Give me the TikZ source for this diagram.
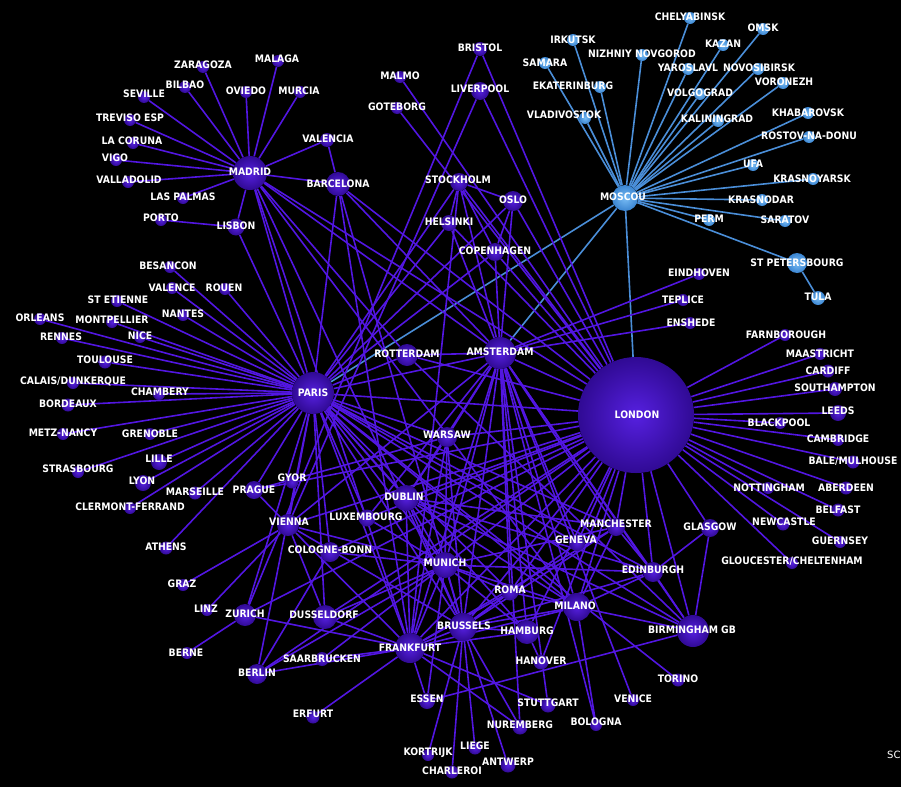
\documentclass[tikz,border=0pt]{standalone}
\usepackage{fontspec}
\setmainfont{DejaVu Sans}
\newfontfamily\lblfont[FakeStretch=0.9]{DejaVu Sans}
\pgfdeclarelayer{bg}
\pgfdeclarelayer{edges}
\pgfsetlayers{bg,edges,main}
\definecolor{pin}{RGB}{86,32,224}
\definecolor{pout}{RGB}{48,10,148}
\definecolor{bin}{RGB}{120,188,245}
\definecolor{bout}{RGB}{58,132,208}
\definecolor{edgec}{RGB}{82,22,225}
\definecolor{bedgec}{RGB}{74,142,216}
\newcommand\pc[4]{\node[pn,minimum size=#4pt] (#1) at (#2,#3) {};}
\newcommand\bc[4]{\node[bn,minimum size=#4pt] (#1) at (#2,#3) {};}
\newcommand\lb[4]{\node[lbl] (#1l) at (#2,#3) {#4};}
\begin{document}
\begin{tikzpicture}[x=1pt,y=-1pt,
 pn/.style={circle,inner sep=0pt,inner color=pin,outer color=pout},
 bn/.style={circle,inner sep=0pt,inner color=bin,outer color=bout},
 lbl/.style={text=white,font=\lblfont\bfseries\fontsize{10.3}{11}\selectfont,inner sep=0pt},
 ed/.style={draw=edgec,line width=1.6pt},
 bed/.style={draw=bedgec,line width=1.6pt}]
\begin{pgfonlayer}{bg}
\fill[black] (0,0) rectangle (901,787);
\end{pgfonlayer}
\useasboundingbox (0,0) rectangle (901,787);
% Madrid cluster
\pc{mad}{250}{173}{34}
\pc{zar}{203}{67}{12}
\pc{mal}{278}{61}{12}
\pc{bil}{185}{87}{12}
\pc{sev}{144}{97}{12}
\pc{ovi}{246}{92}{12}
\pc{mur}{300}{92}{12}
\pc{tre}{130}{120}{12}
\pc{cor}{133}{143}{12}
\pc{vig}{116}{160}{12}
\pc{vll}{128}{182}{12}
\pc{lpa}{183}{198}{12}
\pc{por}{161}{220}{12}
\pc{lis}{236}{227}{17}
\pc{vlc}{327}{140}{14}
\pc{bcn}{338}{184}{24}
% north
\pc{brs}{480}{49}{14}
\pc{mmo}{400}{77}{12}
\pc{lpl}{480}{91}{18}
\pc{got}{397}{108}{12}
\pc{sto}{459}{182}{18}
\pc{osl}{513}{201}{20}
\pc{hel}{449}{223}{16}
\pc{cph}{495}{252}{18}
% russia
\bc{mow}{625}{198}{26}
\bc{kuf}{545}{63}{12}
\bc{ikt}{573}{40}{12}
\bc{svx}{600}{87}{12}
\bc{vvo}{585}{118}{12}
\bc{goj}{642}{55}{12}
\bc{cek}{690}{18}{12}
\bc{oms}{763}{29}{12}
\bc{kzn}{723}{45}{12}
\bc{iar}{688}{69}{12}
\bc{ovb}{758}{69}{12}
\bc{voz}{783}{83}{12}
\bc{vog}{700}{94}{12}
\bc{kgd}{718}{121}{12}
\bc{khv}{808}{113}{12}
\bc{rov}{809}{137}{12}
\bc{ufa}{753}{165}{12}
\bc{kja}{813}{179}{12}
\bc{krr}{762}{200}{12}
\bc{pee}{709}{220}{12}
\bc{rtw}{785}{221}{12}
\bc{led}{797}{263}{20}
\bc{tul}{818}{298}{14}
% right
\pc{ein}{699}{274}{12}
\pc{tep}{683}{300}{12}
\pc{ens}{690}{323}{12}
\pc{far}{785}{335}{12}
\pc{mst}{820}{354}{12}
\pc{cwl}{828}{371}{13}
\pc{sou}{835}{389}{14}
\pc{lba}{838}{413}{16}
\pc{blk}{780}{423}{12}
\pc{cbg}{838}{440}{12}
\pc{bsl}{853}{462}{13}
\pc{ntg}{768}{488}{12}
\pc{abz}{846}{488}{13}
\pc{bfs}{838}{510}{13}
\pc{ncl}{783}{524}{13}
\pc{gla}{710}{528}{18}
\pc{gci}{840}{542}{12}
\pc{glo}{792}{563}{12}
\pc{lon}{636}{415}{116}
\pc{man}{616}{527}{18}
\pc{gva}{577}{543}{16}
\pc{edi}{653}{572}{20}
\pc{bhx}{693}{631}{32}
\pc{trn}{678}{680}{13}
\pc{vce}{633}{700}{12}
\pc{blq}{596}{725}{12}
% center
\pc{par}{313}{393}{42}
\pc{ams}{500}{353}{32}
\pc{rtm}{407}{355}{22}
\pc{waw}{447}{437}{20}
\pc{dub}{406}{498}{26}
\pc{lux}{367}{518}{17}
\pc{gyr}{292}{482}{13}
\pc{prg}{254}{490}{18}
\pc{vie}{288}{525}{22}
\pc{cgn}{330}{552}{20}
\pc{muc}{445}{565}{26}
\pc{rom}{510}{592}{17}
\pc{mil}{577}{607}{28}
\pc{dus}{325}{617}{24}
\pc{bru}{463}{627}{28}
\pc{ham}{527}{632}{24}
\pc{fra}{410}{648}{30}
\pc{scn}{322}{659}{14}
\pc{haj}{541}{662}{15}
\pc{ess}{427}{701}{16}
\pc{str}{548}{705}{15}
\pc{erf}{313}{717}{13}
\pc{nue}{520}{727}{15}
\pc{lgg}{475}{748}{13}
\pc{kjk}{428}{755}{12}
\pc{anr}{508}{765}{15}
\pc{crl}{452}{772}{13}
% west
\pc{bes}{170}{267}{12}
\pc{vaf}{172}{288}{12}
\pc{uro}{225}{289}{12}
\pc{ebu}{117}{301}{12}
\pc{orl}{40}{319}{12}
\pc{mpl}{112}{322}{12}
\pc{nte}{183}{315}{12}
\pc{rns}{62}{338}{12}
\pc{nce}{140}{337}{12}
\pc{tls}{105}{362}{13}
\pc{cqf}{73}{383}{12}
\pc{cmf}{159}{394}{12}
\pc{bod}{68}{405}{13}
\pc{etz}{63}{434}{12}
\pc{gnb}{150}{434}{12}
\pc{lil}{159}{462}{16}
\pc{sxb}{78}{472}{12}
\pc{lys}{143}{483}{16}
\pc{mrs}{195}{493}{13}
\pc{cfe}{130}{508}{12}
\pc{ath}{166}{548}{13}
\pc{grz}{183}{585}{12}
\pc{lnz}{207}{610}{12}
\pc{zrh}{245}{615}{22}
\pc{brn}{187}{653}{12}
\pc{ber}{257}{674}{20}
% edges
\begin{pgfonlayer}{edges}
\foreach \a/\b in {mow/kuf,mow/ikt,mow/svx,mow/vvo,mow/goj,mow/cek,mow/oms,mow/kzn,mow/iar,mow/ovb,mow/voz,mow/vog,mow/kgd,mow/khv,mow/rov,mow/ufa,mow/kja,mow/krr,mow/pee,mow/rtw,mow/led,led/tul,mow/lon,mow/par,mow/ams}
  \draw[bed] (\a) -- (\b);
\foreach \a/\b in {mad/zar,mad/mal,mad/bil,mad/sev,mad/ovi,mad/mur,mad/tre,mad/cor,mad/vig,mad/vll,mad/lpa,mad/lis,mad/vlc,mad/bcn,mad/par,mad/lon,mad/ams,mad/rtm,mad/fra,mad/bru,mad/mil,
 lis/por,lis/par,bcn/vlc,bcn/par,bcn/ams,bcn/lon,bcn/fra,bcn/bru,
 par/bes,par/vaf,par/uro,par/ebu,par/orl,par/mpl,par/nte,par/rns,par/nce,par/tls,par/cqf,par/cmf,par/bod,par/etz,par/gnb,par/lil,par/sxb,par/lys,par/mrs,par/cfe,par/ath,
 par/sto,par/osl,par/hel,par/cph,par/rtm,par/ams,par/lon,par/waw,par/dub,par/lux,par/prg,par/vie,par/zrh,par/cgn,par/muc,par/rom,par/mil,par/dus,par/bru,par/ham,par/fra,par/ber,par/gva,par/man,par/edi,par/bhx,par/trn,
 brs/lon,brs/zrh,lpl/lon,lpl/vie,mmo/lon,got/lon,sto/osl,sto/hel,sto/cph,sto/lon,sto/ams,sto/fra,osl/cph,osl/lon,osl/ams,hel/ams,hel/lon,cph/ams,cph/lon,
 lon/ams,lon/rtm,lon/waw,lon/dub,lon/lux,lon/vie,lon/zrh,lon/cgn,lon/dus,lon/muc,lon/fra,lon/bru,lon/ham,lon/rom,lon/mil,lon/gva,lon/man,lon/edi,lon/gla,lon/bhx,lon/ncl,lon/glo,lon/gci,lon/bfs,lon/abz,lon/ntg,lon/bsl,lon/cbg,lon/blk,lon/lba,lon/sou,lon/cwl,lon/mst,lon/far,lon/prg,lon/ber,lon/haj,
 ams/ein,ams/tep,ams/ens,ams/rtm,ams/waw,ams/dub,ams/muc,ams/fra,ams/bru,ams/ham,ams/mil,ams/rom,ams/vce,ams/man,ams/edi,ams/bhx,ams/gva,ams/vie,ams/lux,ams/str,ams/nue,ams/blq,
 fra/erf,fra/ess,fra/ber,fra/zrh,fra/vie,fra/scn,fra/dus,fra/muc,fra/ham,fra/str,fra/nue,fra/bru,fra/mil,fra/rom,fra/dub,fra/man,fra/waw,
 bru/kjk,bru/lgg,bru/crl,bru/anr,bru/nue,bru/muc,bru/mil,bru/rom,bru/ham,bru/dub,bru/man,bru/edi,bru/waw,bru/vie,bru/gva,
 muc/ber,muc/ham,muc/rom,muc/mil,muc/dus,muc/cgn,muc/vie,muc/ess,muc/lux,muc/waw,muc/dub,muc/man,muc/edi,muc/scn,
 mil/blq,mil/rom,mil/dub,mil/man,mil/edi,mil/bhx,dub/man,dub/edi,dub/bhx,dub/waw,
 man/edi,edi/gla,edi/bhx,gla/bhx,bhx/ess,bhx/rtm,ham/haj,vie/grz,vie/lnz,vie/prg,vie/dus,zrh/brn,ber/cgn,waw/prg}
  \draw[ed] (\a) -- (\b);
\end{pgfonlayer}
% labels
\lb{mad}{250}{172}{MADRID}
\lb{zar}{203}{65}{ZARAGOZA}
\lb{mal}{277}{59}{MALAGA}
\lb{bil}{185}{85}{BILBAO}
\lb{sev}{144}{94}{SEVILLE}
\lb{ovi}{246}{91}{OVIEDO}
\lb{mur}{299}{91}{MURCIA}
\lb{tre}{130}{118}{TREVISO ESP}
\lb{cor}{132}{141}{LA CORUNA}
\lb{vig}{115}{158}{VIGO}
\lb{vll}{129}{180}{VALLADOLID}
\lb{lpa}{183}{197}{LAS PALMAS}
\lb{por}{161}{218}{PORTO}
\lb{lis}{236}{226}{LISBON}
\lb{vlc}{328}{139}{VALENCIA}
\lb{bcn}{338}{184}{BARCELONA}
\lb{brs}{480}{48}{BRISTOL}
\lb{mmo}{400}{76}{MALMO}
\lb{lpl}{480}{89}{LIVERPOOL}
\lb{got}{397}{107}{GOTEBORG}
\lb{sto}{458}{180}{STOCKHOLM}
\lb{osl}{513}{200}{OSLO}
\lb{hel}{449}{222}{HELSINKI}
\lb{cph}{495}{251}{COPENHAGEN}
\lb{mow}{623}{197}{MOSCOU}
\lb{kuf}{545}{63}{SAMARA}
\lb{ikt}{573}{40}{IRKUTSK}
\lb{svx}{573}{86}{EKATERINBURG}
\lb{vvo}{564}{115}{VLADIVOSTOK}
\lb{goj}{642}{54}{NIZHNIY NOVGOROD}
\lb{cek}{690}{17}{CHELYABINSK}
\lb{oms}{763}{28}{OMSK}
\lb{kzn}{723}{44}{KAZAN}
\lb{iar}{688}{68}{YAROSLAVL}
\lb{ovb}{759}{68}{NOVOSIBIRSK}
\lb{voz}{784}{82}{VORONEZH}
\lb{vog}{700}{93}{VOLGOGRAD}
\lb{kgd}{717}{119}{KALININGRAD}
\lb{khv}{808}{113}{KHABAROVSK}
\lb{rov}{809}{136}{ROSTOV-NA-DONU}
\lb{ufa}{753}{164}{UFA}
\lb{kja}{812}{179}{KRASNOYARSK}
\lb{krr}{761}{200}{KRASNODAR}
\lb{pee}{709}{219}{PERM}
\lb{rtw}{785}{220}{SARATOV}
\lb{led}{797}{263}{ST PETERSBOURG}
\lb{tul}{818}{297}{TULA}
\lb{ein}{699}{273}{EINDHOVEN}
\lb{tep}{683}{300}{TEPLICE}
\lb{ens}{691}{323}{ENSHEDE}
\lb{far}{786}{335}{FARNBOROUGH}
\lb{mst}{820}{354}{MAASTRICHT}
\lb{cwl}{828}{371}{CARDIFF}
\lb{sou}{835}{388}{SOUTHAMPTON}
\lb{lba}{838}{411}{LEEDS}
\lb{blk}{779}{423}{BLACKPOOL}
\lb{cbg}{838}{439}{CAMBRIDGE}
\lb{bsl}{853}{461}{BALE/MULHOUSE}
\lb{ntg}{769}{488}{NOTTINGHAM}
\lb{abz}{846}{488}{ABERDEEN}
\lb{bfs}{838}{510}{BELFAST}
\lb{ncl}{784}{522}{NEWCASTLE}
\lb{gla}{710}{527}{GLASGOW}
\lb{gci}{840}{541}{GUERNSEY}
\lb{glo}{792}{561}{GLOUCESTER/CHELTENHAM}
\lb{lon}{637}{415}{LONDON}
\lb{man}{616}{524}{MANCHESTER}
\lb{gva}{576}{540}{GENEVA}
\lb{edi}{653}{570}{EDINBURGH}
\lb{bhx}{692}{630}{BIRMINGHAM GB}
\lb{trn}{678}{679}{TORINO}
\lb{vce}{633}{699}{VENICE}
\lb{blq}{596}{722}{BOLOGNA}
\lb{par}{313}{393}{PARIS}
\lb{ams}{500}{352}{AMSTERDAM}
\lb{rtm}{407}{354}{ROTTERDAM}
\lb{waw}{447}{435}{WARSAW}
\lb{dub}{404}{497}{DUBLIN}
\lb{lux}{366}{517}{LUXEMBOURG}
\lb{gyr}{292}{478}{GYOR}
\lb{prg}{254}{490}{PRAGUE}
\lb{vie}{289}{522}{VIENNA}
\lb{cgn}{330}{550}{COLOGNE-BONN}
\lb{muc}{445}{563}{MUNICH}
\lb{rom}{510}{590}{ROMA}
\lb{mil}{575}{606}{MILANO}
\lb{dus}{324}{615}{DUSSELDORF}
\lb{bru}{464}{626}{BRUSSELS}
\lb{ham}{527}{631}{HAMBURG}
\lb{fra}{410}{648}{FRANKFURT}
\lb{scn}{322}{659}{SAARBRUCKEN}
\lb{haj}{541}{661}{HANOVER}
\lb{ess}{427}{699}{ESSEN}
\lb{str}{548}{703}{STUTTGART}
\lb{erf}{313}{714}{ERFURT}
\lb{nue}{520}{725}{NUREMBERG}
\lb{lgg}{475}{746}{LIEGE}
\lb{kjk}{428}{753}{KORTRIJK}
\lb{anr}{508}{762}{ANTWERP}
\lb{crl}{452}{771}{CHARLEROI}
\lb{bes}{168}{266}{BESANCON}
\lb{vaf}{172}{288}{VALENCE}
\lb{uro}{224}{288}{ROUEN}
\lb{ebu}{118}{300}{ST ETIENNE}
\lb{orl}{40}{318}{ORLEANS}
\lb{mpl}{112}{320}{MONTPELLIER}
\lb{nte}{183}{314}{NANTES}
\lb{rns}{61}{337}{RENNES}
\lb{nce}{140}{336}{NICE}
\lb{tls}{105}{360}{TOULOUSE}
\lb{cqf}{73}{381}{CALAIS/DUNKERQUE}
\lb{cmf}{160}{392}{CHAMBERY}
\lb{bod}{68}{404}{BORDEAUX}
\lb{etz}{63}{433}{METZ-NANCY}
\lb{gnb}{150}{434}{GRENOBLE}
\lb{lil}{159}{459}{LILLE}
\lb{sxb}{78}{469}{STRASBOURG}
\lb{lys}{142}{481}{LYON}
\lb{mrs}{195}{492}{MARSEILLE}
\lb{cfe}{130}{507}{CLERMONT-FERRAND}
\lb{ath}{166}{547}{ATHENS}
\lb{grz}{182}{584}{GRAZ}
\lb{lnz}{206}{609}{LINZ}
\lb{zrh}{245}{614}{ZURICH}
\lb{brn}{186}{653}{BERNE}
\lb{ber}{257}{673}{BERLIN}
\node[text=white,font=\fontsize{10}{11}\selectfont,inner sep=0pt,anchor=west] (sc) at (887,755) {SC};
\end{tikzpicture}
\end{document}
